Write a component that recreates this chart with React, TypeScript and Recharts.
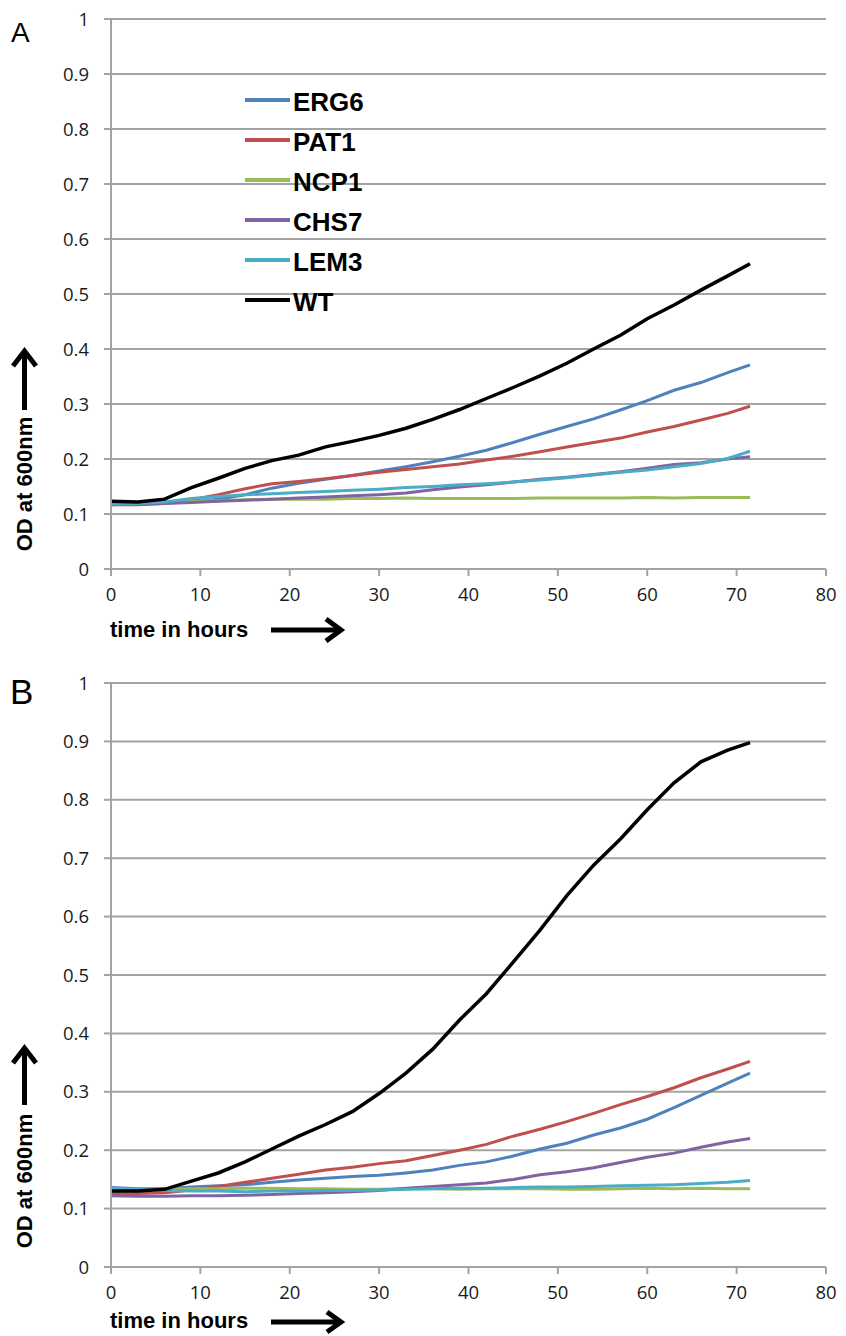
import React from "react";
import { CartesianGrid, Legend, Line, LineChart, XAxis, YAxis } from "recharts";

// sampling times (hours)
const HOURS = [0, 3, 6, 9, 12, 15, 18, 21, 24, 27, 30, 33, 36, 39, 42, 45, 48, 51, 54, 57, 60, 63, 66, 69, 71.5];
const X_TICKS = [0, 10, 20, 30, 40, 50, 60, 70, 80];
const Y_TICKS = [0, 0.1, 0.2, 0.3, 0.4, 0.5, 0.6, 0.7, 0.8, 0.9, 1];
const STRAINS = ["ERG6", "PAT1", "NCP1", "CHS7", "LEM3", "WT"];
const COLORS = ["#4f81bd", "#c0504d", "#9bbb59", "#8064a2", "#4bacc6", "#000000"];

// panel A
const A_ERG6 = [0.118, 0.118, 0.12, 0.122, 0.127, 0.135, 0.147, 0.156, 0.163, 0.17, 0.178, 0.186, 0.195, 0.205, 0.216, 0.23, 0.245, 0.259, 0.273, 0.289, 0.306, 0.325, 0.339, 0.357, 0.371];
const A_PAT1 = [0.117, 0.117, 0.119, 0.126, 0.135, 0.146, 0.155, 0.159, 0.164, 0.17, 0.176, 0.181, 0.186, 0.191, 0.198, 0.205, 0.213, 0.222, 0.23, 0.238, 0.249, 0.259, 0.271, 0.283, 0.296];
const A_NCP1 = [0.118, 0.119, 0.121, 0.123, 0.124, 0.126, 0.127, 0.127, 0.127, 0.128, 0.128, 0.129, 0.128, 0.128, 0.128, 0.128, 0.129, 0.129, 0.129, 0.129, 0.13, 0.129, 0.13, 0.13, 0.13];
const A_CHS7 = [0.117, 0.118, 0.119, 0.121, 0.123, 0.125, 0.127, 0.129, 0.131, 0.133, 0.135, 0.138, 0.144, 0.149, 0.153, 0.158, 0.163, 0.167, 0.172, 0.177, 0.183, 0.19, 0.193, 0.2, 0.204];
const A_LEM3 = [0.118, 0.119, 0.122, 0.128, 0.132, 0.135, 0.137, 0.139, 0.141, 0.143, 0.145, 0.148, 0.15, 0.153, 0.155, 0.158, 0.162, 0.166, 0.171, 0.176, 0.18, 0.186, 0.192, 0.201, 0.214];
const A_WT = [0.123, 0.122, 0.127, 0.148, 0.165, 0.183, 0.197, 0.207, 0.222, 0.232, 0.243, 0.256, 0.272, 0.29, 0.31, 0.33, 0.351, 0.374, 0.4, 0.425, 0.455, 0.48, 0.507, 0.533, 0.555];

// panel B
const B_ERG6 = [0.136, 0.134, 0.134, 0.137, 0.139, 0.141, 0.145, 0.149, 0.152, 0.155, 0.157, 0.161, 0.166, 0.174, 0.18, 0.19, 0.202, 0.212, 0.226, 0.238, 0.253, 0.273, 0.294, 0.315, 0.332];
const B_PAT1 = [0.126, 0.126, 0.127, 0.132, 0.138, 0.145, 0.152, 0.159, 0.166, 0.171, 0.177, 0.182, 0.191, 0.2, 0.21, 0.224, 0.236, 0.249, 0.263, 0.278, 0.292, 0.307, 0.324, 0.339, 0.352];
const B_NCP1 = [0.13, 0.131, 0.133, 0.134, 0.134, 0.135, 0.135, 0.134, 0.134, 0.133, 0.133, 0.134, 0.134, 0.133, 0.134, 0.134, 0.134, 0.133, 0.133, 0.134, 0.135, 0.134, 0.135, 0.134, 0.134];
const B_CHS7 = [0.122, 0.121, 0.121, 0.122, 0.122, 0.123, 0.124, 0.126, 0.127, 0.129, 0.131, 0.135, 0.138, 0.141, 0.144, 0.15, 0.158, 0.163, 0.17, 0.179, 0.188, 0.195, 0.205, 0.214, 0.22];
const B_LEM3 = [0.135, 0.133, 0.131, 0.13, 0.13, 0.129, 0.13, 0.13, 0.131, 0.131, 0.132, 0.133, 0.134, 0.135, 0.135, 0.136, 0.137, 0.137, 0.138, 0.139, 0.14, 0.141, 0.143, 0.145, 0.148];
const B_WT = [0.13, 0.13, 0.133, 0.147, 0.161, 0.18, 0.202, 0.224, 0.244, 0.266, 0.297, 0.332, 0.373, 0.423, 0.468, 0.522, 0.577, 0.636, 0.688, 0.733, 0.783, 0.829, 0.865, 0.885, 0.898];

function rows(series: number[][]) {
  return HOURS.map((t, i) => {
    const r: Record<string, number> = { t };
    STRAINS.forEach((s, k) => (r[s] = series[k][i]));
    return r;
  });
}

const dataA = rows([A_ERG6, A_PAT1, A_NCP1, A_CHS7, A_LEM3, A_WT]);
const dataB = rows([B_ERG6, B_PAT1, B_NCP1, B_CHS7, B_LEM3, B_WT]);

const GRAY = "#a3a3a3";
const TICK_FONT = { fill: "#1a1a1a", fontSize: 18.5, fontFamily: "Open Sans" };

function LegendBox({ payload, rowH }: any) {
  // keep the original series order (recharts sorts by name otherwise)
  const items = [...(payload || [])].sort(
    (a: any, b: any) => STRAINS.indexOf(a.value) - STRAINS.indexOf(b.value)
  );
  return (
    <div>
      {items.map((p: any) => (
        <div key={p.value} style={{ display: "flex", alignItems: "center", height: rowH }}>
          <svg width={45} height={6} style={{ marginTop: -4 }}>
            <line x1={0} x2={45} y1={3} y2={3} stroke={p.color} strokeWidth={4} />
          </svg>
          <span
            style={{
              marginLeft: 3,
              fontFamily: "Liberation Sans",
              fontWeight: 700,
              fontSize: 26,
              color: "#000",
              lineHeight: 1,
            }}
          >
            {p.value}
          </span>
        </div>
      ))}
    </div>
  );
}

interface PanelProps {
  data: Record<string, number>[];
  top: number;
  height: number;
  mTop: number;
  mBottom: number;
  legendLeft: number;
  legendTop: number;
  rowH: number;
}

function Panel({ data, top, height, mTop, mBottom, legendLeft, legendTop, rowH }: PanelProps) {
  return (
    <div style={{ position: "absolute", left: 0, top }}>
      <LineChart
        width={846}
        height={height}
        data={data}
        margin={{ top: mTop, right: 20, bottom: mBottom, left: 0 }}
        style={{ fontFamily: "Open Sans" }}
      >
        <CartesianGrid vertical={false} stroke={GRAY} strokeWidth={2} />
        <XAxis
          dataKey="t"
          type="number"
          domain={[0, 80]}
          ticks={X_TICKS}
          height={30}
          tickSize={7}
          tickMargin={12}
          stroke={GRAY}
          strokeWidth={2}
          tick={TICK_FONT}
        />
        <YAxis
          type="number"
          domain={[0, 1]}
          ticks={Y_TICKS}
          width={111}
          tickSize={7}
          tickMargin={15}
          stroke={GRAY}
          strokeWidth={2}
          tick={TICK_FONT}
        />
        <Legend
          layout="vertical"
          align="center"
          verticalAlign="middle"
          wrapperStyle={{ left: legendLeft, top: legendTop, width: 200 }}
          content={(props: any) => <LegendBox payload={props.payload} rowH={rowH} />}
        />
        {STRAINS.map((s, k) => (
          <Line
            key={s}
            type="linear"
            dataKey={s}
            name={s}
            stroke={COLORS[k]}
            strokeWidth={s === "WT" ? 3.5 : 3}
            dot={false}
            isAnimationActive={false}
          />
        ))}
      </LineChart>
    </div>
  );
}

function Arrow({ d }: { d: string }) {
  return <path d={d} fill="none" stroke="#000" strokeWidth={5} strokeLinecap="butt" strokeLinejoin="miter" />;
}

export default function App() {
  return (
    <div style={{ position: "absolute", left: 0, top: 0, width: 846, height: 1336, background: "#fff" }}>
      <Panel data={dataA} top={0} height={610} mTop={19} mBottom={11} legendLeft={245} legendTop={82} rowH={40} />
      <Panel data={dataB} top={640} height={660} mTop={43} mBottom={3} legendLeft={238} legendTop={725} rowH={37.5} />
      <svg width={846} height={1336} style={{ position: "absolute", left: 0, top: 0, pointerEvents: "none" }}>
        <text x={11} y={42} fontFamily="Liberation Sans" fontSize={28} fill="#000">A</text>
        <text x={10} y={704} fontFamily="Liberation Sans" fontSize={35} fill="#000">B</text>

        <text
          x={24}
          y={484}
          transform="rotate(-90 24 484)"
          textAnchor="middle"
          dominantBaseline="central"
          fontFamily="Liberation Sans"
          fontWeight={700}
          fontSize={22}
        >
          OD at 600nm
        </text>
        <Arrow d="M24.5 410 L24.5 352" />
        <Arrow d="M13 366 L24.5 351 L36 366" />

        <text
          x={24}
          y={1181}
          transform="rotate(-90 24 1181)"
          textAnchor="middle"
          dominantBaseline="central"
          fontFamily="Liberation Sans"
          fontWeight={700}
          fontSize={22}
        >
          OD at 600nm
        </text>
        <Arrow d="M24.5 1105 L24.5 1049" />
        <Arrow d="M13 1063 L24.5 1048 L36 1063" />

        <text x={110} y={637} fontFamily="Liberation Sans" fontWeight={700} fontSize={22}>time in hours</text>
        <Arrow d="M271 630 L340 630" />
        <Arrow d="M326 619 L341 630 L326 641" />

        <text x={110} y={1328} fontFamily="Liberation Sans" fontWeight={700} fontSize={22}>time in hours</text>
        <Arrow d="M271 1322 L340 1322" />
        <Arrow d="M327 1312 L341 1322 L327 1332" />
      </svg>
    </div>
  );
}
